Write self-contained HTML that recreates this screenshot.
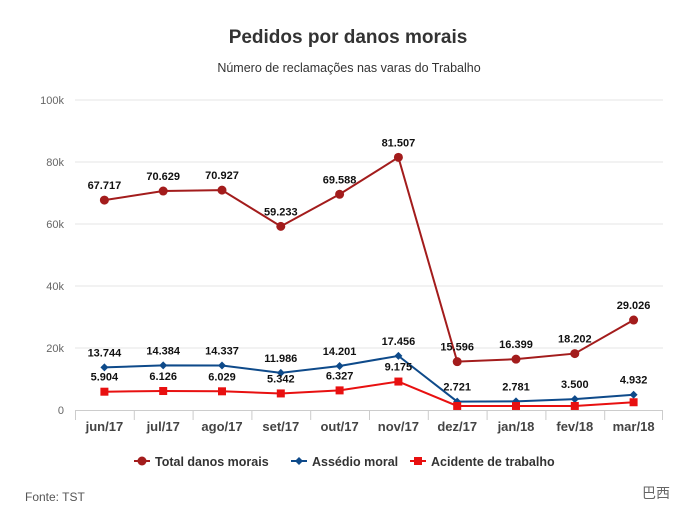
<!DOCTYPE html>
<html><head><meta charset="utf-8"><style>
body{margin:0;background:#fff;font-family:"Liberation Sans",sans-serif;}
svg text{font-family:"Liberation Sans","Noto Sans CJK SC",sans-serif;}
</style></head><body>
<svg id="c" width="696" height="524" xmlns="http://www.w3.org/2000/svg">
<text x="348" y="43" text-anchor="middle" font-size="19" font-weight="bold" fill="#333">Pedidos por danos morais</text>
<text x="349" y="72" text-anchor="middle" font-size="12.5" fill="#333">Número de reclamações nas varas do Trabalho</text>
<g id="grid"></g><g id="series"></g>
<g>
<g><line x1="134" y1="461" x2="150" y2="461" stroke="#a31c1c" stroke-width="2"/><circle cx="142" cy="461" r="4.5" fill="#a31c1c"/><text x="155" y="466" font-size="12.5" font-weight="bold" fill="#333">Total danos morais</text></g>
<g><line x1="291" y1="461" x2="307" y2="461" stroke="#0e4a8a" stroke-width="2"/><path d="M299 457 L303 461 L299 465 L295 461Z" fill="#0e4a8a"/><text x="312" y="466" font-size="12.5" font-weight="bold" fill="#333">Assédio moral</text></g>
<g><line x1="410" y1="461" x2="426" y2="461" stroke="#e81010" stroke-width="2"/><rect x="414" y="457" width="8" height="8" fill="#e81010"/><text x="431" y="466" font-size="12.5" font-weight="bold" fill="#333">Acidente de trabalho</text></g>
</g>
<text x="25" y="501" font-size="12" fill="#555">Fonte: TST</text>
<text x="642" y="498" font-size="14" fill="#666">巴西</text>
</svg>
<script>
const categories=["jun/17","jul/17","ago/17","set/17","out/17","nov/17","dez/17","jan/18","fev/18","mar/18"];
const totalValues=[67717,70629,70927,59233,69588,81507,15596,16399,18202,29026];
const assedioValues=[13744,14384,14337,11986,14201,17456,2721,2781,3500,4932];
const acidenteValues=[5904,6126,6029,5342,6327,9175,1300,1300,1300,2500];
const totalLabels=["67.717","70.629","70.927","59.233","69.588","81.507","15.596","16.399","18.202","29.026"];
const assedioLabels=["13.744","14.384","14.337","11.986","14.201","17.456","2.721","2.781","3.500","4.932"];
const acidenteLabels=["5.904","6.126","6.029","5.342","6.327","9.175","","","",""];
const yTicks=[0,20000,40000,60000,80000,100000];
const yTickLabels=["0","20k","40k","60k","80k","100k"];
const NS="http://www.w3.org/2000/svg";
const L=75,R=663,T=100,B=410,yMax=100000;
const step=(R-L)/categories.length;
const x=i=>L+step*(i+0.5);
const y=v=>B-(v/yMax)*(B-T);
function mk(tag,attrs,parent,txt){const e=document.createElementNS(NS,tag);for(const k in attrs)e.setAttribute(k,attrs[k]);if(txt!=null)e.textContent=txt;parent.appendChild(e);return e;}
const g=document.getElementById('grid'),s=document.getElementById('series');
yTicks.forEach((t,i)=>{
 if(i>0){const ln=mk('line',{x1:L,x2:R,y1:y(t),y2:y(t),stroke:'#e6e6e6'},g);
 
 }
 const tx=mk('text',{x:64,y:y(t)+4,'text-anchor':'end','font-size':11,fill:'#666'},g,yTickLabels[i]);
 
 
});
const ax=mk('line',{x1:L,x2:R,y1:B+0.5,y2:B+0.5,stroke:'#ccc'},g);


categories.forEach((c,i)=>{
 const tk=mk('line',{x1:L+step*i+0.5,x2:L+step*i+0.5,y1:B,y2:B+10,stroke:'#ccc'},g);
 
 
 const tx=mk('text',{x:x(i),y:B+21,'text-anchor':'middle','font-size':13,'font-weight':'bold',fill:'#444'},g,c);
 
 
});
const tk2=mk('line',{x1:R-0.5,x2:R-0.5,y1:B,y2:B+10,stroke:'#ccc'},g);


function series(vals,labels,color,shape,name){
 const p=mk('polyline',{points:vals.map((v,i)=>x(i)+','+y(v)).join(' '),fill:'none',stroke:color,'stroke-width':2},s);
 
 
 vals.forEach((v,i)=>{
  let m;
  if(shape==='c')m=mk('circle',{cx:x(i),cy:y(v),r:4.5,fill:color},s);
  else if(shape==='d')m=mk('path',{d:`M${x(i)} ${y(v)-4}L${x(i)+4} ${y(v)}L${x(i)} ${y(v)+4}L${x(i)-4} ${y(v)}Z`,fill:color},s);
  else m=mk('rect',{x:x(i)-4,y:y(v)-4,width:8,height:8,fill:color},s);
  
  
  if(labels[i]){const t=mk('text',{x:x(i),y:y(v)-11,'text-anchor':'middle','font-size':11,'font-weight':'bold',fill:'#111'},s,labels[i]);
  
  }
 });
}
series(totalValues,totalLabels,'#a31c1c','c','total');
series(assedioValues,assedioLabels,'#0e4a8a','d','assedio');
series(acidenteValues,acidenteLabels,'#e81010','s','acidente');
</script>
</body></html>
